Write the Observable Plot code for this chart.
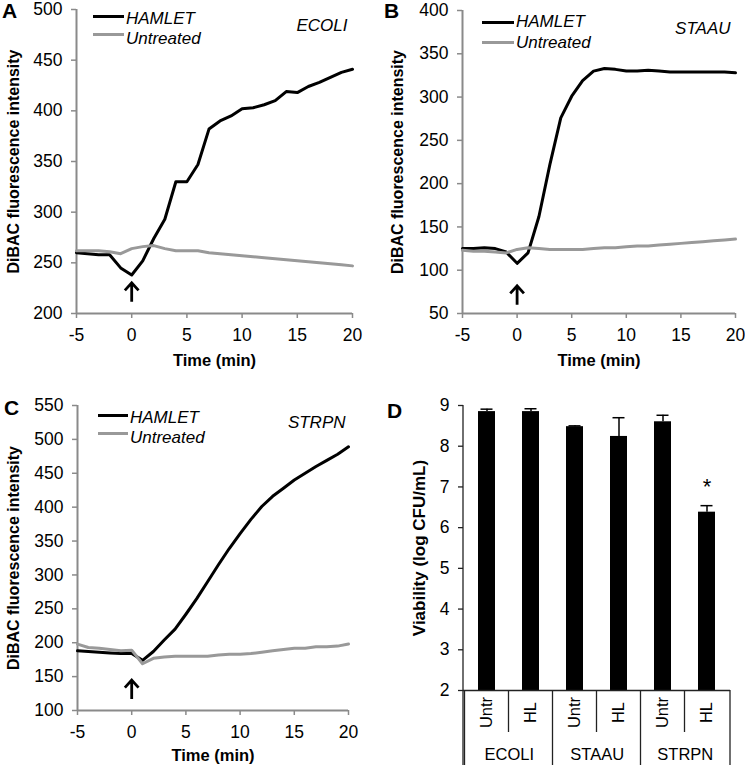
<!DOCTYPE html>
<html><head><meta charset="utf-8">
<script src="https://cdn.jsdelivr.net/npm/d3@7"></script>
<script src="https://cdn.jsdelivr.net/npm/@observablehq/plot@0.6"></script>
<style>
body{margin:0;background:#fff;}
#root{position:relative;width:745px;height:765px;background:#fff;font-family:"Liberation Sans",Arial,sans-serif;overflow:hidden;color:#000;}
.panel{position:absolute;}
.letter{position:absolute;font-weight:bold;font-size:21px;line-height:21px;}
.leg{position:absolute;font-style:italic;font-size:17px;line-height:17px;white-space:nowrap;}
.sw{position:absolute;height:3px;}
</style></head><body><div id="root"></div><script>
// ---------- data ----------
const time = [-5,-4,-3,-2,-1,0,1,2,3,4,5,6,7,8,9,10,11,12,13,14,15,16,17,18,19,20];
const xTicks = [-5,0,5,10,15,20];

const ecoliHamlet    = [260,259,258,258,245,238,252,274,293,330,330,347,382,390,395,402,403,406,410,419,418,424,428,433,438,441];
const ecoliUntreated = [262,262,262,261,259,264,266,267,264,262,262,262,260,259,258,257,256,255,254,253,252,251,250,249,248,247];
const ecoliTicks = [200,250,300,350,400,450,500];

const staauHamlet    = [125,125,126,125,121,108,120,162,222,276,301,319,330,333,332,330,330,331,330,329,329,329,329,329,329,328];
const staauUntreated = [123,122,122,121,120,124,126,125,124,124,124,124,125,126,126,127,128,128,129,130,131,132,133,134,135,136];
const staauTicks = [50,100,150,200,250,300,350,400];

const strpnHamlet    = [188,187,186,185,184,184,174,187,204,220,242,265,290,315,339,361,382,401,416,428,440,450,460,469,478,489];
const strpnUntreated = [198,193,192,190,188,189,169,177,179,180,180,180,180,182,183,183,184,186,188,190,192,192,194,194,195,198];
const strpnTicks = [100,150,200,250,300,350,400,450,500,550];

// arrow marking HAMLET addition: time and level (arrow centre)
const arrowTime = 0;
const ecoliArrowLevel = 221;
const staauArrowLevel = 71;
const strpnArrowLevel = 131;

const species = ["ECOLI","STAAU","STRPN"];
const treatments = ["Untr","HL"];
const viabilityMean = [8.85, 8.85, 8.48, 8.24, 8.60, 6.38];
const viabilityErr  = [0.06, 0.07, 0.02, 0.46, 0.16, 0.16];
const viabilityTicks = [2,3,4,5,6,7,8,9];
const starY = 7.0;

// ---------- layout ----------
const FONT = "Liberation Sans, Arial, sans-serif";
const AXIS = "#8a8a8a";
const GRAY = "#999999";
const root = document.getElementById("root");
const fmt = d => String(d).replace("\u2212", "-");

// upward arrow symbol for Plot.dot
const upArrow = {
  draw(ctx, size) {
    const r = Math.sqrt(size / Math.PI);
    ctx.moveTo(0, r); ctx.lineTo(0, -r);
    ctx.moveTo(-0.72 * r, -0.2 * r); ctx.lineTo(0, -r); ctx.lineTo(0.72 * r, -0.2 * r);
  }
};

function place(el, left, top) {
  const w = document.createElement("div");
  w.className = "panel";
  w.style.left = left + "px"; w.style.top = top + "px";
  w.appendChild(el); root.appendChild(w);
}
function letter(t, left, top) {
  const d = document.createElement("div"); d.className = "letter";
  d.textContent = t; d.style.left = left + "px"; d.style.top = top + "px"; root.appendChild(d);
}
function legendItem(text, color, x1, x2, yLine, yText) {
  const s = document.createElement("div"); s.className = "sw";
  s.style.left = x1 + "px"; s.style.width = (x2 - x1) + "px"; s.style.top = (yLine - 1.5) + "px";
  s.style.background = color; root.appendChild(s);
  const t = document.createElement("div"); t.className = "leg";
  t.textContent = text; t.style.left = (x2 + 2) + "px"; t.style.top = (yText - 8.3) + "px";
  root.appendChild(t);
}

function linePanel(o) {
  const ham = time.map((t, i) => ({t, v: o.hamlet[i]}));
  const unt = time.map((t, i) => ({t, v: o.untreated[i]}));
  const arr = [{t: arrowTime, v: o.arrow}];
  return Plot.plot({
    width: o.w, height: o.h,
    marginLeft: o.ml, marginRight: o.mr, marginTop: o.mt, marginBottom: o.mb,
    style: {fontFamily: FONT, fontSize: "17px", color: "#000", background: "transparent", overflow: "visible"},
    x: {domain: [-5, 20]},
    y: {domain: [o.ticks[0], o.ticks[o.ticks.length - 1]]},
    marks: [
      Plot.axisX({ticks: xTicks, tickFormat: fmt, tickSize: 5, tickPadding: 10, stroke: AXIS, strokeWidth: 1.5, fill: "#000", label: null, fontSize: 17.5}),
      Plot.axisY({ticks: o.ticks, tickFormat: fmt, tickSize: 5, tickPadding: 9, stroke: AXIS, strokeWidth: 1.5, fill: "#000", label: null, fontSize: 17.5}),
      Plot.ruleX([-5], {stroke: AXIS, strokeWidth: 2}),
      Plot.ruleY([o.ticks[0]], {stroke: AXIS, strokeWidth: 2}),
      Plot.line(ham, {x: "t", y: "v", stroke: "#000", strokeWidth: 3}),
      Plot.line(unt, {x: "t", y: "v", stroke: GRAY, strokeWidth: 3}),
      Plot.dot(arr, {x: "t", y: "v", symbol: upArrow, r: 9.5, stroke: "#000", fill: "none", strokeWidth: 2.8}),
      Plot.text([o.species], {frameAnchor: "top-right", dx: o.sdx, dy: o.sdy, textAnchor: "end", lineAnchor: "middle", fontStyle: "italic", fontSize: 17}),
      Plot.text(["Time (min)"], {frameAnchor: "bottom", dy: o.xdy, lineAnchor: "middle", textAnchor: "middle", fontWeight: "bold", fontSize: 16.5}),
      Plot.text(["DiBAC fluorescence intensity"], {frameAnchor: "left", dx: o.ydx, rotate: -90, textAnchor: "middle", lineAnchor: "middle", fontWeight: "bold", fontSize: 16})
    ]
  });
}

place(linePanel({hamlet: ecoliHamlet, untreated: ecoliUntreated, ticks: ecoliTicks, arrow: ecoliArrowLevel, species: "ECOLI",
  w: 372, h: 380, ml: 76, mr: 20, mt: 9, mb: 67, sdx: -5, sdy: 16, xdy: 47, ydx: -63}), 0, 0);
place(linePanel({hamlet: staauHamlet, untreated: staauUntreated, ticks: staauTicks, arrow: staauArrowLevel, species: "STAAU",
  w: 373, h: 380, ml: 90, mr: 10, mt: 10, mb: 67, sdx: -5, sdy: 18, xdy: 47, ydx: -65}), 372, 0);
place(linePanel({hamlet: strpnHamlet, untreated: strpnUntreated, ticks: strpnTicks, arrow: strpnArrowLevel, species: "STRPN",
  w: 372, h: 385, ml: 77, mr: 24, mt: 25, mb: 55, sdx: -3, sdy: 17, xdy: 45, ydx: -64}), 0, 380);

// ---------- panel D ----------
const rows = [];
species.forEach((s, i) => treatments.forEach((t, j) => {
  const k = i * 2 + j;
  rows.push({key: s + " " + t, species: s, treatment: t, mean: viabilityMean[k], hi: viabilityMean[k] + viabilityErr[k]});
}));
const dW = 373, dH = 385, dML = 91, dMR = 15, dMT = 25, dMB = 75;
const dStep = (dW - dML - dMR) / rows.length;

function categoryFrame(index, scales, values, dimensions) {
  const x = scales.x;
  const step = x.step ? x.step() : dStep;
  const bw = x.bandwidth ? x.bandwidth() : 0;
  const y0 = dimensions.height - dimensions.marginBottom;
  const H = dimensions.height;
  const g = d3.create("svg:g").attr("stroke", "#222").attr("stroke-width", 1.3).attr("fill", "none");
  g.append("line").attr("x1", dimensions.marginLeft).attr("x2", dimensions.marginLeft)
    .attr("y1", dimensions.marginTop).attr("y2", H);
  rows.forEach(d => {
    if (d.treatment === "Untr") return;
    const left = x(d.key) - (step - bw) / 2;
    g.append("line").attr("x1", left).attr("x2", left).attr("y1", y0).attr("y2", y0 + 42);
  });
  rows.forEach(d => {
    if (d.treatment !== "Untr") return;
    const left = x(d.key) - (step - bw) / 2;
    if (left > dimensions.marginLeft + 1)
      g.append("line").attr("x1", left).attr("x2", left).attr("y1", y0).attr("y2", H);
  });
  const right = dimensions.width - dimensions.marginRight;
  g.append("line").attr("x1", right).attr("x2", right).attr("y1", y0).attr("y2", H);
  return g.node();
}

const groupRows = rows.filter(d => d.treatment === "Untr");
const chartD = Plot.plot({
  width: dW, height: dH, marginLeft: dML, marginRight: dMR, marginTop: dMT, marginBottom: dMB,
  style: {fontFamily: FONT, fontSize: "17px", color: "#000", background: "transparent", overflow: "visible"},
  x: {domain: rows.map(d => d.key), paddingInner: 0.615, paddingOuter: 0.3075, axis: null},
  y: {domain: [2, 9]},
  marks: [
    Plot.axisY({ticks: viabilityTicks, tickFormat: fmt, tickSize: 5, tickPadding: 9, stroke: "#222", strokeWidth: 1.3, fill: "#000", label: null, fontSize: 17.5}),
    Plot.barY(rows, {x: "key", y1: 2, y2: "mean", fill: "#000"}),
    Plot.ruleX(rows, {x: "key", y1: "mean", y2: "hi", stroke: "#000", strokeWidth: 1.5}),
    Plot.tickY(rows, {x: "key", y: "hi", stroke: "#000", strokeWidth: 1.5, inset: 2.5}),
    Plot.ruleY([2], {stroke: "#222", strokeWidth: 1.3}),
    categoryFrame,
    Plot.text(rows.filter(d => d.key === "STRPN HL"), {x: "key", y: () => starY, text: () => "*", fontSize: 22, lineAnchor: "middle"}),
    Plot.text(rows, {x: "key", text: "treatment", frameAnchor: "bottom", dy: 22, rotate: -90, textAnchor: "middle", lineAnchor: "middle", fontSize: 16.5}),
    Plot.text(groupRows, {x: "key", text: "species", frameAnchor: "bottom", dx: dStep / 2, dy: 64, textAnchor: "middle", lineAnchor: "middle", fontSize: 16.5}),
    Plot.text(["Viability (log CFU/mL)"], {frameAnchor: "left", dx: -44, rotate: -90, textAnchor: "middle", lineAnchor: "middle", fontWeight: "bold", fontSize: 17})
  ]
});
place(chartD, 372, 380);

// ---------- legends & letters ----------
legendItem("HAMLET", "#000", 93, 124, 16, 18.5);
legendItem("Untreated", GRAY, 93, 124, 34, 38);
legendItem("HAMLET", "#000", 482, 514, 22, 21.5);
legendItem("Untreated", GRAY, 482, 514, 42, 42.5);
legendItem("HAMLET", "#000", 98, 128, 415, 417);
legendItem("Untreated", GRAY, 98, 128, 433, 437);

letter("A", 2, 0);
letter("B", 384, 0);
letter("C", 4, 397);
letter("D", 387, 400);
</script></body></html>
